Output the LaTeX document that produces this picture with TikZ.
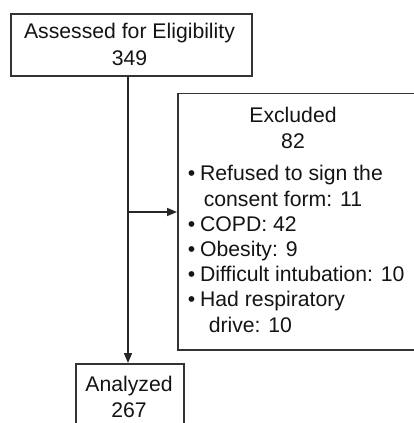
\documentclass[tikz,border=0pt]{standalone}
\usepackage{fontspec}
\setmainfont{Liberation Sans}
\usetikzlibrary{arrows.meta}
\begin{document}
\begin{tikzpicture}[x=1pt,y=-1pt,
  line width=1.5pt,
  box/.style={draw=black!80, rectangle, inner sep=0pt, anchor=north west},
  lbl/.style={font=\fontsize{21.2}{25}\selectfont, text=black!92, inner sep=0pt, anchor=base},
  item/.style={lbl, anchor=base west},
  arr/.style={draw=black!85, -{Triangle[length=10pt,width=8pt]}}]
\useasboundingbox (0,0) rectangle (414,423);
% boxes
\node[box, minimum width=241pt, minimum height=62pt] (top) at (10,13) {};
\node[box, minimum width=250pt, minimum height=256.5pt] (exc) at (177,92.5) {};
\node[box, minimum width=108pt, minimum height=80pt] (ana) at (75,363) {};
% texts
\node[lbl] (t1) at (129.5,38.5) {Assessed for Eligibility};
\node[lbl] (t2) at (129.5,65) {349};
\node[lbl] (e1) at (293,122.7) {Excluded};
\node[lbl] (e2) at (293,148) {82};
\node[item] (i1) at (187,180) {\textbullet\hspace{5pt}Refused to sign the};
\node[item] (i2) at (203,206.7) {consent form: 11};
\node[item] (i3) at (187,231.7) {\textbullet\hspace{5pt}COPD: 42};
\node[item] (i4) at (187,256.7) {\textbullet\hspace{5pt}Obesity: 9};
\node[item] (i5) at (187,281.7) {\textbullet\hspace{5pt}Difficult intubation: 10};
\node[item] (i6) at (187,306.7) {\textbullet\hspace{5pt}Had respiratory};
\node[item] (i7) at (208,332.7) {drive: 10};
\node[lbl] (a1) at (129,391.7) {Analyzed};
\node[lbl] (a2) at (129,417) {267};
% connectors
\coordinate (j) at (128,212);
\draw[arr] (top.south -| j) -- (ana.north -| j);
\draw[arr] (j) -- (exc.west |- j);
\end{tikzpicture}
\end{document}
